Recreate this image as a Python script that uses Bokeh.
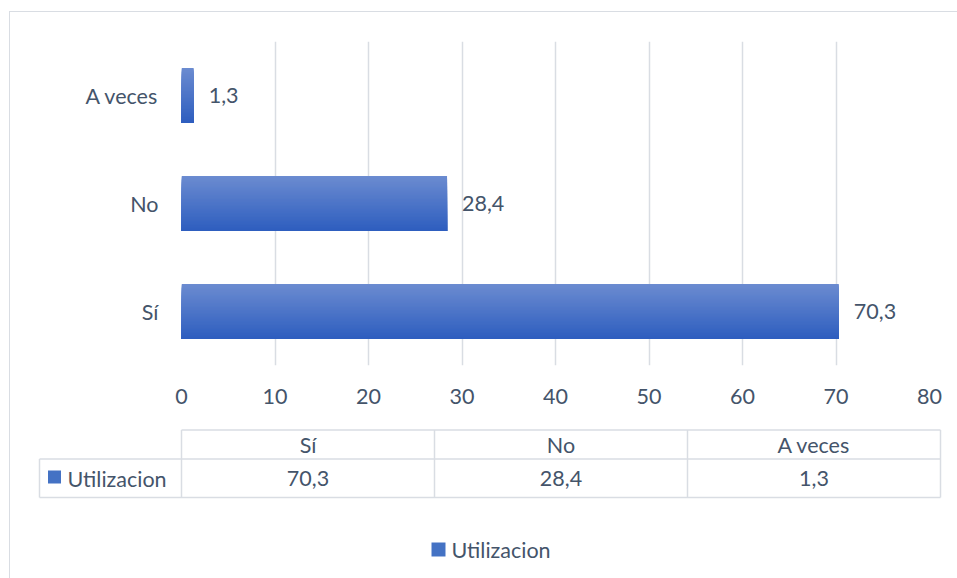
from bokeh.plotting import figure
from bokeh.models import Range1d, FactorRange, ColumnDataSource, FixedTicker
from bokeh.transform import dodge
from bokeh.layouts import column
from bokeh.core.properties import value
from bokeh.embed import file_html
from bokeh.resources import INLINE

# ---------------- data ----------------
categories = ["Sí", "No", "A veces"]
values = [70.3, 28.4, 1.3]
series_name = "Utilizacion"
x_ticks = [0, 10, 20, 30, 40, 50, 60, 70, 80]

# ---------------- style ----------------
FONT = "Lato"
FS = "21.5px"
TXT = "#44546a"
GRID = "#d9dde3"
TOP_RGB = (0x6b, 0x8b, 0xd0)
BOT_RGB = (0x2e, 0x5e, 0xbf)
BAR_H = 0.51
N_SLICES = 40

labels = [f"{v:.1f}".replace(".", ",") for v in values]
src = ColumnDataSource(dict(cat=categories, val=values, lab=labels))

# ---------------- main chart ----------------
p = figure(width=947, height=408,
           y_range=FactorRange(factors=categories, range_padding=0),
           x_range=Range1d(0, 80),
           output_backend="svg", toolbar_location=None,
           min_border_left=171, min_border_right=28,
           min_border_top=29, min_border_bottom=55)
p.frame_align = False
p.outline_line_color = None
p.background_fill_color = "white"
p.border_fill_color = "white"

# vertical gradient: lightest full-height bar first, then progressively darker
# bars anchored at the bottom edge with lower tops
h = BAR_H / N_SLICES
for i in range(N_SLICES):
    t = i / (N_SLICES - 1)
    col = "#%02x%02x%02x" % tuple(int(round(a + (b - a) * t)) for a, b in zip(TOP_RGB, BOT_RGB))
    hh = BAR_H - i * h
    off = -BAR_H / 2 + hh / 2
    p.hbar(y=dodge("cat", off, range=p.y_range), left=0, right="val",
           height=hh, source=src, fill_color=col, line_color=None)

p.text(x="val", y="cat", text="lab", source=src, x_offset=15,
       text_align="left", text_baseline="middle",
       text_font=value(FONT), text_font_size=FS, text_color=TXT)

p.xaxis.ticker = FixedTicker(ticks=x_ticks)
for ax in (p.xaxis, p.yaxis):
    ax.axis_line_color = None
    ax.major_tick_line_color = None
    ax.minor_tick_line_color = None
    ax.major_label_text_font = FONT
    ax.major_label_text_font_size = FS
    ax.major_label_text_color = TXT
p.xaxis.major_label_standoff = 17
p.yaxis.major_label_standoff = 17
p.ygrid.grid_line_color = None
p.xgrid.grid_line_color = GRID
p.xgrid.grid_line_width = 1.5

# ---------------- data table + legend ----------------
q = figure(width=947, height=158, x_range=Range1d(10, 957), y_range=Range1d(578, 420),
           output_backend="svg", toolbar_location=None, min_border=0,
           x_axis_location=None, y_axis_location=None)
q.frame_align = False
q.outline_line_color = None
q.grid.visible = False

tx0, tx1, lx = 181.0, 940.0, 39.0
y_top, y_mid, y_bot = 429.5, 458.5, 497.0
n = len(categories)
cw = (tx1 - tx0) / n

x0s = [tx0, lx, lx] + [tx0 + k * cw for k in range(n + 1)] + [lx]
x1s = [tx1, tx1, tx1] + [tx0 + k * cw for k in range(n + 1)] + [lx]
y0s = [y_top, y_mid, y_bot] + [y_top] * (n + 1) + [y_mid]
y1s = [y_top, y_mid, y_bot] + [y_bot] * (n + 1) + [y_bot]
q.segment(x0=x0s, y0=y0s, x1=x1s, y1=y1s, line_color=GRID, line_width=1.5)

centers = [tx0 + (k + 0.5) * cw for k in range(n)]
q.text(x=centers, y=[(y_top + y_mid) / 2] * n, text=categories,
       text_align="center", text_baseline="middle",
       text_font=value(FONT), text_font_size=FS, text_color=TXT)
q.text(x=centers, y=[(y_mid + y_bot) / 2 + 0.5] * n, text=labels,
       text_align="center", text_baseline="middle",
       text_font=value(FONT), text_font_size=FS, text_color=TXT)

# legend key inside table
q.rect(x=[54], y=[476.5], width=13, height=13, fill_color="#4472c4", line_color=None)
q.text(x=[67], y=[478], text=[series_name], text_align="left", text_baseline="middle",
       text_font=value(FONT), text_font_size=FS, text_color=TXT)

# bottom legend
q.rect(x=[438], y=[549], width=14, height=14, fill_color="#4472c4", line_color=None)
q.text(x=[451], y=[549], text=[series_name], text_align="left", text_baseline="middle",
       text_font=value(FONT), text_font_size=FS, text_color=TXT)

layout = column(p, q, spacing=0, margin=(11, 0, 0, 9),
                styles={"border-top": "1px solid #d9dde3",
                        "border-left": "1px solid #d9dde3",
                        "background": "white"})

open("out.html", "w").write(file_html(layout, INLINE))
